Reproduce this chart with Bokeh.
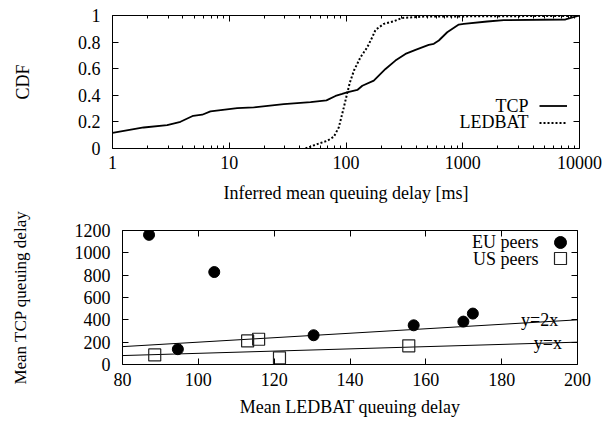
from bokeh.plotting import figure
from bokeh.models import (Range1d, LogAxis, LinearAxis, FixedTicker, NumeralTickFormatter,
                          Legend, LegendItem, Label)
from bokeh.layouts import column
from bokeh.embed import file_html
from bokeh.resources import INLINE

# ---------------- data ----------------
tcp_delay = [1, 1.85, 2.94, 3.82, 4.91, 5.87, 6.9, 11.7, 16.2, 29.3, 49.7, 68, 81.3, 92.7,
             102, 125, 138, 173, 218, 265, 323, 394, 511, 565, 624, 736, 925, 1021, 1620,
             2250, 7590, 10000]
tcp_cdf = [0.118, 0.158, 0.176, 0.201, 0.246, 0.254, 0.279, 0.304, 0.309, 0.334, 0.349,
           0.362, 0.395, 0.41, 0.422, 0.44, 0.472, 0.51, 0.598, 0.661, 0.711, 0.742, 0.779,
           0.787, 0.812, 0.874, 0.932, 0.937, 0.955, 0.965, 0.97, 1.0]
ledbat_delay = [45, 56.6, 69, 78.6, 86.7, 95.8, 102, 108, 117, 133, 152, 168, 179, 211, 257,
                302, 464, 8900, 10000]
ledbat_cdf = [0, 0.033, 0.058, 0.088, 0.158, 0.309, 0.41, 0.497, 0.586, 0.686, 0.761, 0.837,
              0.892, 0.937, 0.957, 0.982, 0.992, 0.997, 1.0]

eu_ledbat = [87.0, 94.6, 104.2, 130.4, 156.8, 169.9, 172.4]
eu_tcp = [1161, 137, 828, 262, 351, 384, 456]
us_ledbat = [88.5, 113.0, 115.9, 121.4, 155.5]
us_tcp = [86, 211, 226, 60, 167]

ref_x = [80, 200]
ref_y1 = [v * 1 for v in ref_x]
ref_y2 = [v * 2 for v in ref_x]

top_xticks = [1, 10, 100, 1000, 10000]
top_yticks = [0, 0.2, 0.4, 0.6, 0.8, 1.0]
top_ylabels = ["0", "0.2", "0.4", "0.6", "0.8", "1"]
bot_xticks = [80, 100, 120, 140, 160, 180, 200]
bot_yticks = [0, 200, 400, 600, 800, 1000, 1200]

FONT = "Liberation Serif"
FS = "18px"


def style_axis(ax, labels=True):
    ax.axis_line_color = None
    ax.major_tick_in = 6
    ax.major_tick_out = 0
    ax.minor_tick_in = 3
    ax.minor_tick_out = 0
    ax.major_tick_line_color = "black"
    ax.minor_tick_line_color = "black"
    ax.major_label_text_font = FONT
    ax.major_label_text_color = "black"
    ax.axis_label_text_font = FONT
    ax.axis_label_text_font_size = FS
    ax.axis_label_text_font_style = "normal"
    ax.axis_label_text_color = "black"
    if labels:
        ax.major_label_text_font_size = FS
    else:
        ax.major_label_text_font_size = "2px"
        ax.major_label_text_alpha = 0
        ax.major_label_standoff = 0


def no_align(p):
    if "frame_align" in p.properties():
        p.frame_align = False


# ---------------- top: CDF ----------------
minor_log = [m * 10 ** e for e in range(0, 4) for m in range(2, 10)]

p1 = figure(width=606, height=208, x_axis_type="log", output_backend="svg",
            toolbar_location=None, x_range=Range1d(1, 10000), y_range=Range1d(0, 1),
            min_border_left=112, min_border_right=27, min_border_top=15, min_border_bottom=60)
no_align(p1)
p1.xgrid.visible = False
p1.ygrid.visible = False
p1.outline_line_color = "black"
p1.outline_line_width = 1

xt1 = FixedTicker(ticks=top_xticks, minor_ticks=minor_log)
yt1 = FixedTicker(ticks=top_yticks)
ax = p1.xaxis[0]
ax.ticker = xt1
ax.formatter = NumeralTickFormatter(format="0")
ax.axis_label = "Inferred mean queuing delay [ms]"
style_axis(ax)
ax.major_label_standoff = 7
ax.axis_label_standoff = 11

ay = p1.yaxis[0]
ay.ticker = yt1
ay.major_label_overrides = {t: l for t, l in zip(top_yticks, top_ylabels)}
ay.axis_label = "CDF"
style_axis(ay)
ay.major_label_standoff = 12
ay.axis_label_standoff = 42

top_ax = LogAxis(ticker=FixedTicker(ticks=top_xticks, minor_ticks=minor_log))
style_axis(top_ax, labels=False)
p1.add_layout(top_ax, "above")
right_ax = LinearAxis(ticker=FixedTicker(ticks=top_yticks))
style_axis(right_ax, labels=False)
p1.add_layout(right_ax, "right")

r_tcp = p1.line(tcp_delay, tcp_cdf, line_color="black", line_width=1.8)
r_led = p1.line(ledbat_delay, ledbat_cdf, line_color="black", line_width=2, line_dash="2 2")

leg1 = Legend(items=[LegendItem(label="\u00a0", renderers=[r_tcp]),
                     LegendItem(label="\u00a0", renderers=[r_led])],
              location=(427, 17), orientation="vertical", padding=0, margin=0, spacing=0,
              glyph_width=28, glyph_height=17, label_height=17, label_width=2,
              label_standoff=0, label_text_font_size="4px",
              border_line_color=None, background_fill_alpha=0)
p1.add_layout(leg1)
for txt, yy in [("TCP", 43), ("LEDBAT", 26.5)]:
    p1.add_layout(Label(x=416, y=yy, x_units="screen", y_units="screen", text=txt,
                        text_align="right", text_baseline="middle", text_font=FONT,
                        text_font_size=FS, text_color="black"))

# ---------------- bottom: scatter ----------------
p2 = figure(width=606, height=214, output_backend="svg", toolbar_location=None,
            x_range=Range1d(80, 200), y_range=Range1d(0, 1200),
            min_border_left=122, min_border_right=29, min_border_top=22, min_border_bottom=58)
no_align(p2)
p2.xgrid.visible = False
p2.ygrid.visible = False
p2.outline_line_color = "black"
p2.outline_line_width = 1

bx = p2.xaxis[0]
bx.ticker = FixedTicker(ticks=bot_xticks)
bx.axis_label = "Mean LEDBAT queuing delay"
style_axis(bx)
bx.major_label_standoff = 8
bx.axis_label_standoff = 8

by = p2.yaxis[0]
by.ticker = FixedTicker(ticks=bot_yticks)
by.axis_label = "Mean TCP queuing delay"
style_axis(by)
by.axis_label_text_font_size = "17px"
by.major_label_standoff = 12
by.axis_label_standoff = 42

top2 = LinearAxis(ticker=FixedTicker(ticks=bot_xticks))
style_axis(top2, labels=False)
p2.add_layout(top2, "above")
right2 = LinearAxis(ticker=FixedTicker(ticks=bot_yticks))
style_axis(right2, labels=False)
p2.add_layout(right2, "right")

p2.line(ref_x, ref_y2, line_color="black", line_width=1)
p2.line(ref_x, ref_y1, line_color="black", line_width=1)
p2.add_layout(Label(x=190, y=395, text="y=2x", text_align="center", text_baseline="middle",
                    text_font=FONT, text_font_size=FS, text_color="black"))
p2.add_layout(Label(x=192.2, y=196, text="y=x", text_align="center", text_baseline="middle",
                    text_font=FONT, text_font_size=FS, text_color="black"))

r_eu = p2.scatter(eu_ledbat, eu_tcp, marker="circle", size=11, fill_color="black",
                  line_color="black")
r_us = p2.scatter(us_ledbat, us_tcp, marker="square", size=12, fill_color=None,
                  line_color="#222222", line_width=1.2)

for rend, vy in [(r_eu, 107), (r_us, 91)]:
    lg = Legend(items=[LegendItem(label="\u00a0", renderers=[rend])], location=(423, vy),
                padding=0, margin=0, spacing=0, glyph_width=30, glyph_height=30,
                label_height=30, label_width=2, label_standoff=0, label_text_font_size="4px",
                border_line_color=None, background_fill_alpha=0)
    p2.add_layout(lg)
for txt, yy in [("EU peers", 122.3), ("US peers", 105.7)]:
    p2.add_layout(Label(x=416, y=yy, x_units="screen", y_units="screen", text=txt,
                        text_align="right", text_baseline="middle", text_font=FONT,
                        text_font_size=FS, text_color="black"))

layout = column(p1, p2, spacing=0)
open("out.html", "w").write(file_html(layout, INLINE))
